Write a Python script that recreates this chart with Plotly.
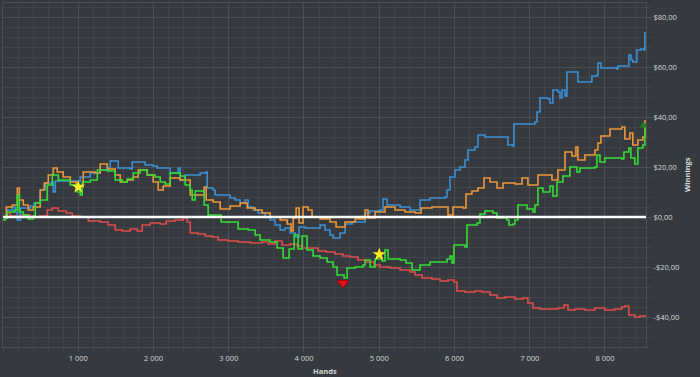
import plotly.graph_objects as go

# ---- data (hands, winnings in $) ----
blue_hands = [0,57,124,163,190,230,363,416,495,562,655,668,695,894,1027,1160,1292,1398,1425,1518,1531,1691,1717,1863,1890,1996,2049,2155,2222,2328,2355,2421,2514,2620,2700,2713,2793,2819,2952,3019,3085,3152,3218,3258,3324,3391,3483,3550,3616,3683,3749,3816,3882,3922,3935,4015,4147,4214,4280,4347,4386,4480,4546,4639,4812,4878,5011,5051,5104,5277,5409,5542,5675,5874,5900,5940,6006,6073,6139,6179,6272,6312,6405,6697,6710,6777,6790,7069,7096,7136,7242,7269,7308,7375,7402,7428,7468,7494,7627,7640,7800,7826,7893,7906,7946,8158,8171,8291,8317,8344,8370,8423,8477,8517,8530]
blue_vals = [0,2.8,4.0,2.0,-1.2,3.6,4.4,5.6,10.8,13.6,14.0,10.0,14.4,14.4,16.0,17.6,18.8,19.6,22.4,22.4,19.6,19.2,22.0,22.0,20.8,20.4,19.6,19.6,17.6,19.6,14.8,16.8,16.8,17.6,18.0,11.6,10.8,8.8,8.8,7.6,6.8,5.6,6.8,4.0,2.8,1.6,0,-1.2,-3.2,-5.2,-4.4,-6.4,-8.0,-8.0,-4.0,-4.4,-4.4,-3.2,-5.2,-7.2,-8.4,-6.4,-2.8,-2.0,1.6,2.4,2.8,7.2,4.8,4.0,2.8,6.8,7.6,8.0,10.8,16.0,18.8,20.0,22.8,26.8,28.0,32.8,32.0,32.0,28.8,28.4,37.2,38.0,42.0,47.6,47.2,45.6,50.8,50.0,47.6,50.8,48.4,58.0,58.0,54.0,54.0,56.4,56.8,61.6,59.6,59.2,60.4,60.4,64.8,62.8,62.0,66.8,67.2,66.8,74.0]

orange_hands = [0,44,124,177,190,217,270,336,402,495,548,602,668,721,801,894,973,1027,1066,1226,1292,1385,1491,1558,1651,1731,1797,1917,1996,2062,2129,2222,2355,2488,2647,2673,2700,2793,2886,3019,3152,3245,3351,3444,3550,3683,3776,3829,3856,3895,3935,3988,4054,4107,4214,4347,4427,4546,4679,4785,4812,4851,4944,5077,5210,5343,5476,5556,5701,5900,5914,5980,6113,6153,6232,6312,6392,6472,6565,6645,6804,6897,6976,7109,7295,7375,7468,7561,7614,7640,7733,7866,7906,7946,8066,8224,8264,8331,8370,8437,8503,8530]
orange_vals = [0,4.0,4.8,4.8,11.6,6.8,4.8,2.8,4.0,10.8,13.6,16.8,19.6,18.0,16.0,14.0,12.0,12.0,18.0,17.6,21.2,19.2,16.8,14.0,14.8,16.0,18.8,16.8,14.0,10.8,12.4,15.6,14.8,8.8,8.8,12.0,6.8,6.0,3.2,4.4,5.6,3.6,2.8,1.6,0,-1.2,-2.8,-5.6,-0.4,3.6,-2.4,4.0,2.8,0,-0.8,-2.0,-4.0,-2.0,-0.8,-0.8,2.8,-0.4,2.0,4.0,2.8,2.0,1.6,3.6,4.0,4.0,0.8,4.0,3.6,9.2,10.4,11.6,15.6,14.0,11.6,13.6,13.2,15.6,12.8,16.8,14.8,18.8,26.0,24.4,28.0,22.8,24.8,26.8,29.6,32.4,35.2,36.0,31.2,33.6,28.8,30.8,32.0,38.8]

green_hands = [0,31,57,150,190,217,270,336,402,429,495,588,655,735,894,987,1027,1053,1160,1253,1385,1491,1584,1651,1731,1824,1917,2023,2089,2155,2222,2355,2421,2488,2514,2554,2647,2673,2726,2819,2899,3019,3125,3258,3351,3417,3550,3643,3723,3803,3869,3922,3975,4041,4121,4214,4307,4386,4440,4533,4573,4679,4785,4812,4878,4944,5038,5077,5117,5277,5356,5436,5542,5675,5900,5940,5967,5993,6139,6166,6299,6339,6405,6511,6565,6697,6724,6777,6804,6843,6963,7043,7069,7109,7175,7269,7308,7362,7441,7534,7627,7667,7866,7893,7933,7999,8224,8251,8317,8344,8397,8437,8503,8530]
green_vals = [-1.2,-0.4,2.0,2.8,8.8,2.0,0.8,-0.8,0.4,5.6,6.8,12.8,16.8,14.8,12.8,10.0,8.8,14.0,14.8,18.8,18.4,14.8,14.0,15.2,17.6,18.8,16.8,16.0,14.0,13.2,17.6,16.4,12.8,10.8,6.8,10.4,10.4,4.8,0.8,0.8,-2.0,-2.0,-4.8,-5.2,-7.2,-9.2,-10.0,-12.4,-16.4,-12.8,-7.2,-12.8,-7.6,-13.2,-15.6,-16.4,-18.0,-20.0,-23.2,-24.4,-20.4,-20.0,-19.2,-17.2,-20.0,-16.8,-17.6,-13.2,-16.8,-17.2,-18.4,-21.2,-19.2,-18.0,-16.8,-15.6,-18.4,-11.2,-12.0,-3.2,-2.4,1.2,2.4,1.6,-0.4,-1.2,-3.2,-2.8,-1.2,4.8,3.2,2.0,4.8,11.6,10.0,12.4,8.4,14.0,16.4,20.0,18.0,19.6,20.0,24.8,22.0,23.6,23.2,26.0,27.6,23.6,21.2,27.6,28.8,36.0]

red_hands = [0,44,97,230,363,495,588,655,735,841,920,1027,1133,1292,1398,1491,1584,1691,1784,1850,1956,2089,2169,2288,2394,2447,2488,2594,2687,2780,2859,2992,3125,3285,3444,3524,3616,3709,3816,3909,3975,4081,4187,4294,4413,4519,4612,4719,4825,4931,5011,5144,5277,5409,5476,5569,5701,5808,5914,5994,6033,6139,6272,6365,6472,6565,6671,6804,6910,6976,7043,7136,7269,7375,7455,7508,7601,7733,7866,7999,8131,8224,8264,8317,8397,8464,8530]
red_vals = [0,1.6,0.4,0.8,0,0.4,2.8,3.6,2.4,1.6,0.4,0,-1.6,-2.0,-3.2,-5.2,-5.6,-4.8,-5.6,-3.2,-2.4,-2.8,-1.6,-1.2,-0.4,-2.0,-6.4,-6.8,-7.6,-8.0,-9.2,-9.6,-10.0,-10.4,-10.0,-10.8,-9.6,-11.2,-10.8,-11.6,-12.4,-12.4,-13.6,-14.0,-14.8,-15.6,-16.0,-17.2,-18.0,-19.2,-20.0,-20.4,-21.2,-22.0,-23.2,-24.4,-24.8,-25.6,-25.2,-26.0,-29.6,-30.0,-29.6,-30.0,-31.2,-32.4,-32.0,-32.8,-32.4,-34.4,-36.4,-36.8,-36.8,-36.4,-35.2,-37.2,-36.8,-37.2,-36.4,-37.2,-36.8,-36.0,-35.6,-39.2,-40.0,-39.6,-40.0]

star_hands = [1000, 5000]
star_vals = [12.0, -15.0]
low_hand = [4520]
low_val = [-26.4]
end_hand = [8510]
end_val = [36.6]

x_tickvals = [1000, 2000, 3000, 4000, 5000, 6000, 7000, 8000]
x_ticktext = ["1 000", "2 000", "3 000", "4 000", "5 000", "6 000", "7 000", "8 000"]
y_tickvals = [-40, -20, 0, 20, 40, 60, 80]
y_ticktext = ["-$40,00", "-$20,00", "$0,00", "$20,00", "$40,00", "$60,00", "$80,00"]

BG = "#363a3e"
GRID = "#4c5055"
MINOR = "#414549"
TXT = "#d4d6d8"
FS = 7.5

fig = go.Figure()
for h, v, c in [(red_hands, red_vals, "#e04b4b"),
                (blue_hands, blue_vals, "#3a90d4"),
                (orange_hands, orange_vals, "#ee9638"),
                (green_hands, green_vals, "#35dc35")]:
    fig.add_trace(go.Scatter(x=h, y=v, mode="lines", line=dict(color=c, width=1.6, shape="hv"),
                             hoverinfo="skip"))

fig.add_shape(type="line", xref="paper", x0=0, x1=1, yref="y", y0=0, y1=0,
              line=dict(color="#ffffff", width=2.5), layer="above")

fig.add_trace(go.Scatter(x=star_hands, y=star_vals, mode="markers",
                         marker=dict(symbol="star", size=10, color="#ffee22", line=dict(width=0))))
fig.add_trace(go.Scatter(x=low_hand, y=low_val, mode="markers",
                         marker=dict(symbol="triangle-down", size=10, color="#ee1111",
                                     line=dict(color="#aa0000", width=1))))
fig.add_trace(go.Scatter(x=end_hand, y=end_val, mode="markers",
                         marker=dict(symbol="triangle-up", size=8, color="#1f7a1f", line=dict(width=0))))

fig.add_annotation(text="<b>Hands</b>", xref="paper", yref="paper", x=0.5, y=0,
                   xanchor="center", yanchor="middle", yshift=-24, showarrow=False,
                   font=dict(size=FS, color=TXT))
fig.add_annotation(text="<b>Winnings</b>", xref="paper", yref="paper", x=1, y=0.5,
                   xanchor="center", yanchor="middle", xshift=41, textangle=-90, showarrow=False,
                   font=dict(size=FS, color=TXT))

fig.update_layout(
    width=700, height=377,
    paper_bgcolor=BG, plot_bgcolor=BG,
    margin=dict(l=3, r=54, t=3, b=30),
    showlegend=False,
    font=dict(family="Open Sans, Noto Sans, sans-serif", size=FS, color=TXT),
    xaxis=dict(range=[0, 8545], tickvals=x_tickvals, ticktext=x_ticktext,
               showgrid=True, gridcolor=GRID, gridwidth=1, zeroline=False,
               ticks="outside", ticklen=4, tickcolor=GRID,
               showline=True, linecolor=GRID, mirror=True,
               minor=dict(dtick=200, tick0=0, showgrid=True, gridcolor=MINOR,
                          ticks="outside", ticklen=4, tickcolor=MINOR),
               tickfont=dict(size=FS, color=TXT), automargin=False),
    yaxis=dict(side="right", range=[-52, 85.6], tickvals=y_tickvals, ticktext=y_ticktext,
               showgrid=True, gridcolor=GRID, gridwidth=1, zeroline=False,
               ticks="outside", ticklen=5, tickcolor=GRID,
               showline=True, linecolor=GRID, mirror=True,
               minor=dict(dtick=4, tick0=0, showgrid=True, gridcolor=MINOR,
                          ticks="outside", ticklen=5, tickcolor=MINOR),
               tickfont=dict(size=FS, color=TXT), automargin=False),
)

fig.write_html("out.html", config={"displayModeBar": False},
               post_script="document.body.style.margin='0';document.body.style.overflow='hidden';")
